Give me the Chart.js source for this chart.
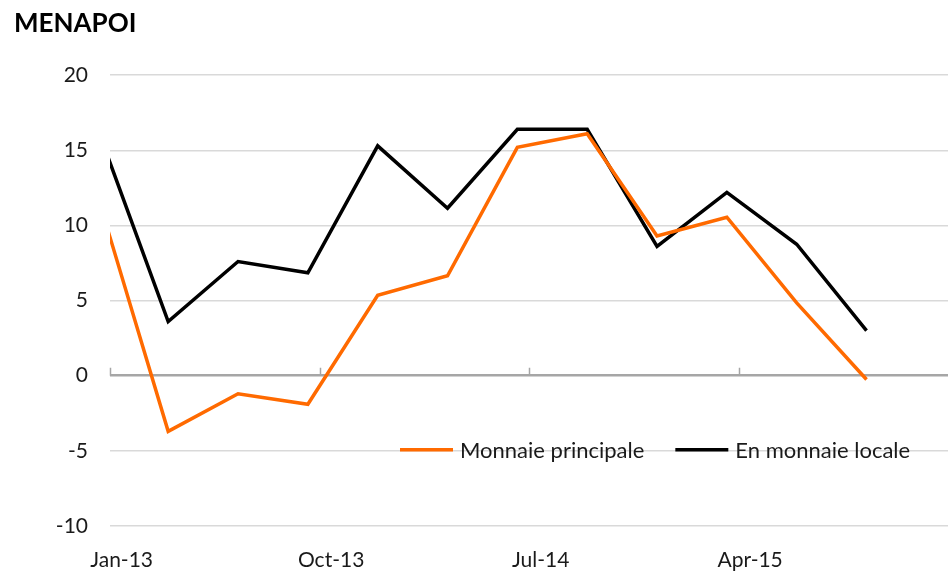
<!DOCTYPE html>
<html>
<head>
<meta charset="utf-8">
<script src="https://cdn.jsdelivr.net/npm/chart.js@4/dist/chart.umd.min.js"></script>
<style>
  html, body { margin: 0; padding: 0; background: #fff; }
  #wrap { width: 948px; height: 573px; position: relative; }
</style>
</head>
<body>
<div id="wrap"><canvas id="chart"></canvas></div>
<script>
// quarterly observations (plotted mid-month, monthly date axis starting Jan-13)
const periods = ["Dec-12", "Mar-13", "Jun-13", "Sep-13", "Dec-13", "Mar-14", "Jun-14",
                 "Sep-14", "Dec-14", "Mar-15", "Jun-15", "Sep-15"];
const monnaiePrincipale = [11.8, -3.7, -1.2, -1.9, 5.35, 6.65, 15.2, 16.1, 9.3, 10.55, 4.85, -0.25];
const monnaieLocale = [16.3, 3.6, 7.6, 6.85, 15.3, 11.15, 16.4, 16.4, 8.6, 12.2, 8.75, 3.0];
const tickLabels = ["Jan-13", "Oct-13", "Jul-14", "Apr-15"];

const MONTHS = ["Jan","Feb","Mar","Apr","May","Jun","Jul","Aug","Sep","Oct","Nov","Dec"];
const FONT = "Lato, 'Open Sans', sans-serif";

// month index from Jan-13, centred in the month
const monthPos = p => {
    const [m, y] = p.split("-");
    return (Number(y) - 13) * 12 + MONTHS.indexOf(m) + 0.5;
};
const toPoints = vals => vals.map((v, i) => ({ x: monthPos(periods[i]), y: v }));

/* ---- zero line tick marks (every 9 months) ---- */
const zeroTicks = {
    id: "zeroTicks",
    afterDatasetsDraw(chart) {
        const { ctx, scales: { x, y } } = chart;
        const y0 = y.getPixelForValue(0);
        ctx.save();
        ctx.strokeStyle = "#a6a6a6";
        ctx.lineWidth = 1.5;
        tickLabels.forEach(l => {
            const px = Math.round(x.getPixelForValue(monthPos(l) - 0.5)) + 0.5;
            ctx.beginPath();
            ctx.moveTo(px, y0);
            ctx.lineTo(px, y0 - 8);
            ctx.stroke();
        });
        ctx.restore();
    }
};

/* ---- legend drawn inside the plot ---- */
const innerLegend = {
    id: "innerLegend",
    afterDraw(chart) {
        const { ctx, scales: { y } } = chart;
        const ly = y.getPixelForValue(-5) - 1;
        let lx = 400;
        ctx.save();
        ctx.font = "22px " + FONT;
        ctx.textBaseline = "middle";
        chart.data.datasets.forEach(ds => {
            ctx.strokeStyle = ds.borderColor;
            ctx.lineWidth = 3.5;
            ctx.beginPath();
            ctx.moveTo(lx, ly);
            ctx.lineTo(lx + 53, ly);
            ctx.stroke();
            ctx.fillStyle = "#1a1a1a";
            ctx.fillText(ds.label, lx + 60, ly + 1);
            lx += 60 + ctx.measureText(ds.label).width + 31;
        });
        ctx.restore();
    }
};

new Chart(document.getElementById("chart").getContext("2d"), {
    type: "line",
    data: {
        datasets: [
            {
                label: "Monnaie principale",
                data: toPoints(monnaiePrincipale),
                borderColor: "#ff6a00",
                borderWidth: 3.5,
                pointRadius: 0,
                tension: 0,
                clip: 0
            },
            {
                label: "En monnaie locale",
                data: toPoints(monnaieLocale),
                borderColor: "#000000",
                borderWidth: 3.5,
                pointRadius: 0,
                tension: 0,
                clip: 0
            }
        ]
    },
    options: {
        responsive: true,
        maintainAspectRatio: false,
        animation: false,
        layout: { padding: { left: 14, right: 0, top: 8, bottom: 0 } },
        plugins: {
            legend: { display: false },
            tooltip: { enabled: false },
            title: {
                display: true,
                text: "MENAPOI",
                align: "start",
                color: "#000",
                font: { family: FONT, size: 26, weight: "bold", lineHeight: 1.2 },
                padding: { top: 0, bottom: 36 }
            }
        },
        scales: {
            x: {
                type: "linear",
                min: 0,
                max: 36,
                afterFit: s => { s.height = 47; },
                grid: { display: false, drawTicks: false },
                border: { display: false },
                afterBuildTicks: s => {
                    s.ticks = tickLabels.map(l => ({ value: monthPos(l) }));
                },
                ticks: {
                    autoSkip: false,
                    maxRotation: 0,
                    padding: 22,
                    color: "#1a1a1a",
                    font: { family: FONT, size: 21 },
                    callback: (v, i) => tickLabels[i]
                }
            },
            y: {
                min: -10,
                max: 20,
                afterFit: s => { s.width = 96; },
                border: { display: false },
                grid: {
                    drawTicks: false,
                    color: c => c.tick && c.tick.value === 0 ? "#a6a6a6" : "#d9d9d9",
                    lineWidth: c => c.tick && c.tick.value === 0 ? 2.5 : 1.5
                },
                ticks: {
                    stepSize: 5,
                    padding: 22,
                    color: "#1a1a1a",
                    font: { family: FONT, size: 21 }
                }
            }
        }
    },
    plugins: [zeroTicks, innerLegend]
});
</script>
</body>
</html>
